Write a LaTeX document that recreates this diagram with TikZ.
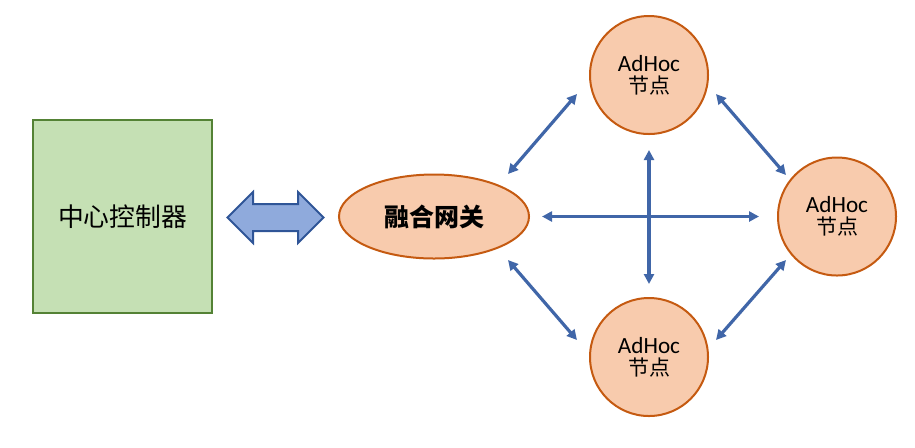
\documentclass[tikz,border=0pt]{standalone}
\usepackage{fontspec}
\setmainfont{Carlito}
\newfontfamily\cjk{Noto Sans CJK SC}
\usetikzlibrary{shapes.geometric,shapes.arrows,arrows.meta}
\definecolor{ctrlfill}{HTML}{C5E0B4}
\definecolor{ctrlline}{HTML}{548235}
\definecolor{nodefill}{HTML}{F8CBAD}
\definecolor{nodeline}{HTML}{C55A11}
\definecolor{arrowfill}{HTML}{8FAADC}
\definecolor{arrowline}{HTML}{2F5597}
\definecolor{linkblue}{HTML}{4066A8}
\tikzset{
  adhoc/.style={circle, draw=nodeline, fill=nodefill, line width=1pt,
    minimum size=59pt, inner sep=0pt, align=center,
    font=\fontsize{11.6}{11}\selectfont},
  link/.style={{Triangle[length=5pt,width=5pt]}-{Triangle[length=5pt,width=5pt]},
    draw=linkblue, line width=1.6pt}
}
\begin{document}
\begin{tikzpicture}[x=0.5pt,y=-0.5pt]
\useasboundingbox (0,0) rectangle (915,447);
\node[fill=ctrlfill, draw=ctrlline, line width=1pt, rectangle, minimum width=89.5pt,
    minimum height=96.5pt, font=\cjk\fontsize{12.9}{14}\selectfont] (ctrl) at (122.5,216.5) {中心控制器};

\node[double arrow, draw=arrowline, fill=arrowfill, line width=1pt, minimum height=48pt,
    inner xsep=0pt, inner ysep=6.25pt, double arrow head extend=6pt] (pipe) at (275.5,217.5) {};

\node[ellipse, draw=nodeline, fill=nodefill, line width=1pt, minimum width=95pt,
    minimum height=42pt, inner sep=0pt, font=\cjk\bfseries\fontsize{12.5}{14}\selectfont] (gw) at (434,216.5) {融合网关};

\node[adhoc] (top) at (649,75) {AdHoc\\{\cjk\fontsize{10.5}{11}\selectfont 节点}};
\node[adhoc] (right) at (837,216.5) {AdHoc\\{\cjk\fontsize{10.5}{11}\selectfont 节点}};
\node[adhoc] (bottom) at (649,357) {AdHoc\\{\cjk\fontsize{10.5}{11}\selectfont 节点}};

\draw[link, shorten <=6pt, shorten >=9pt] (gw) -- (right);
\draw[link, shorten <=7.5pt, shorten >=6.5pt] (top) -- (bottom);

\coordinate (tl1) at (508,174); \coordinate (tl2) at (577,94);
\coordinate (tr1) at (716,94); \coordinate (tr2) at (786,175);
\coordinate (bl1) at (508,260); \coordinate (bl2) at (577,340);
\coordinate (br1) at (716,340); \coordinate (br2) at (786,260);
\draw[link] (tl1) -- (tl2);
\draw[link] (tr1) -- (tr2);
\draw[link] (bl1) -- (bl2);
\draw[link] (br1) -- (br2);
\end{tikzpicture}
\end{document}
